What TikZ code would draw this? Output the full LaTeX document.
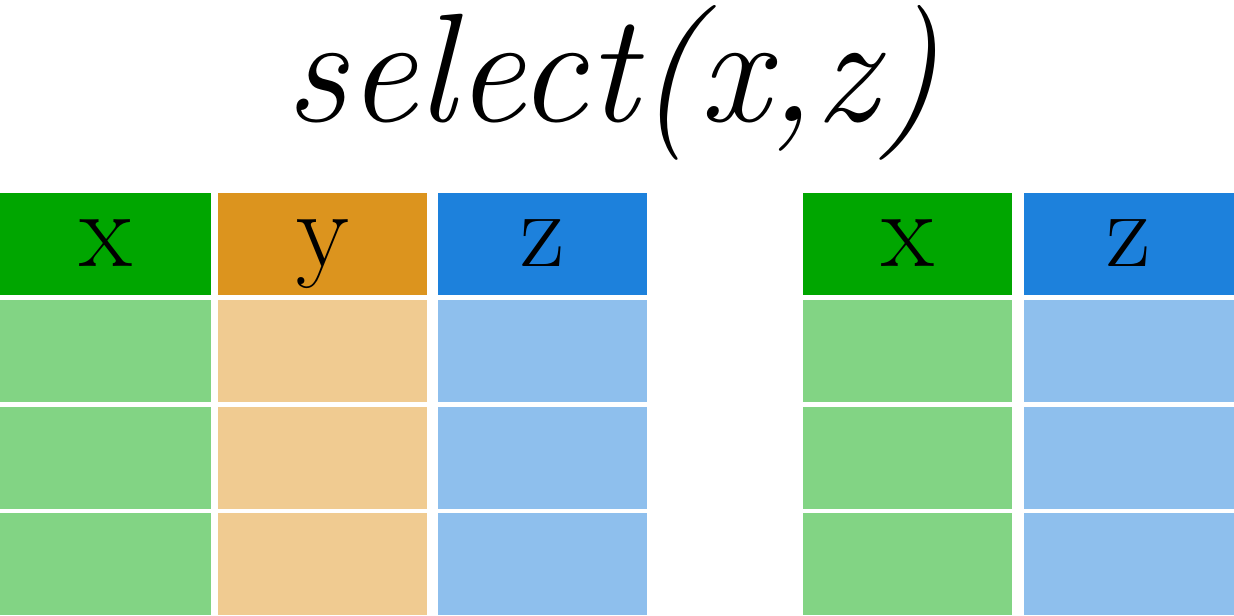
\documentclass[tikz,border=0pt]{standalone}
\usepackage{tikz}
\usetikzlibrary{positioning}
\definecolor{xgreen}{RGB}{0,166,0}
\definecolor{xgreenlight}{RGB}{130,212,132}
\definecolor{ygold}{RGB}{220,148,30}
\definecolor{ygoldlight}{RGB}{240,203,145}
\definecolor{zblue}{RGB}{29,129,220}
\definecolor{zbluelight}{RGB}{142,191,237}

\begin{document}
\begin{tikzpicture}[
    x=0.01cm, y=-0.01cm,
    cell/.style={draw=white, line width=0.3pt, inner sep=0pt, minimum height=1.03cm},
    head/.style={cell, font=\fontsize{31}{36}\selectfont, text height=0.45cm, text depth=0cm}
]
\useasboundingbox (0,0) rectangle (1234,615);

% Title
\node[anchor=base,font=\fontsize{44}{52}\selectfont\itshape] (title) at (612,121) {select(x,z)};

% Input table: headers
\node[head,fill=xgreen,minimum width=2.11cm] (inx) at (105.5,243.5) {x};
\node[head,fill=ygold,minimum width=2.09cm] (iny) at (322.5,243.5) {y};
\node[head,fill=zblue,minimum width=2.09cm] (inz) at (542.5,243.5) {z};

% Input table: rows
\node[cell,fill=xgreenlight,minimum width=2.11cm] (inxa) at (105.5,350.5) {};
\node[cell,fill=ygoldlight,minimum width=2.09cm] (inya) at (322.5,350.5) {};
\node[cell,fill=zbluelight,minimum width=2.09cm] (inza) at (542.5,350.5) {};

\node[cell,fill=xgreenlight,minimum width=2.11cm] (inxb) at (105.5,457.5) {};
\node[cell,fill=ygoldlight,minimum width=2.09cm] (inyb) at (322.5,457.5) {};
\node[cell,fill=zbluelight,minimum width=2.09cm] (inzb) at (542.5,457.5) {};

\node[cell,fill=xgreenlight,minimum width=2.11cm] (inxc) at (105.5,563.5) {};
\node[cell,fill=ygoldlight,minimum width=2.09cm] (inyc) at (322.5,563.5) {};
\node[cell,fill=zbluelight,minimum width=2.09cm] (inzc) at (542.5,563.5) {};

% Output table: headers
\node[head,fill=xgreen,minimum width=2.09cm] (outx) at (907.5,243.5) {x};
\node[head,fill=zblue,minimum width=2.10cm] (outz) at (1129,243.5) {z};

% Output table: rows
\node[cell,fill=xgreenlight,minimum width=2.09cm] (outxa) at (907.5,350.5) {};
\node[cell,fill=zbluelight,minimum width=2.10cm] (outza) at (1129,350.5) {};

\node[cell,fill=xgreenlight,minimum width=2.09cm] (outxb) at (907.5,457.5) {};
\node[cell,fill=zbluelight,minimum width=2.10cm] (outzb) at (1129,457.5) {};

\node[cell,fill=xgreenlight,minimum width=2.09cm] (outxc) at (907.5,563.5) {};
\node[cell,fill=zbluelight,minimum width=2.10cm] (outzc) at (1129,563.5) {};

\end{tikzpicture}
\end{document}
